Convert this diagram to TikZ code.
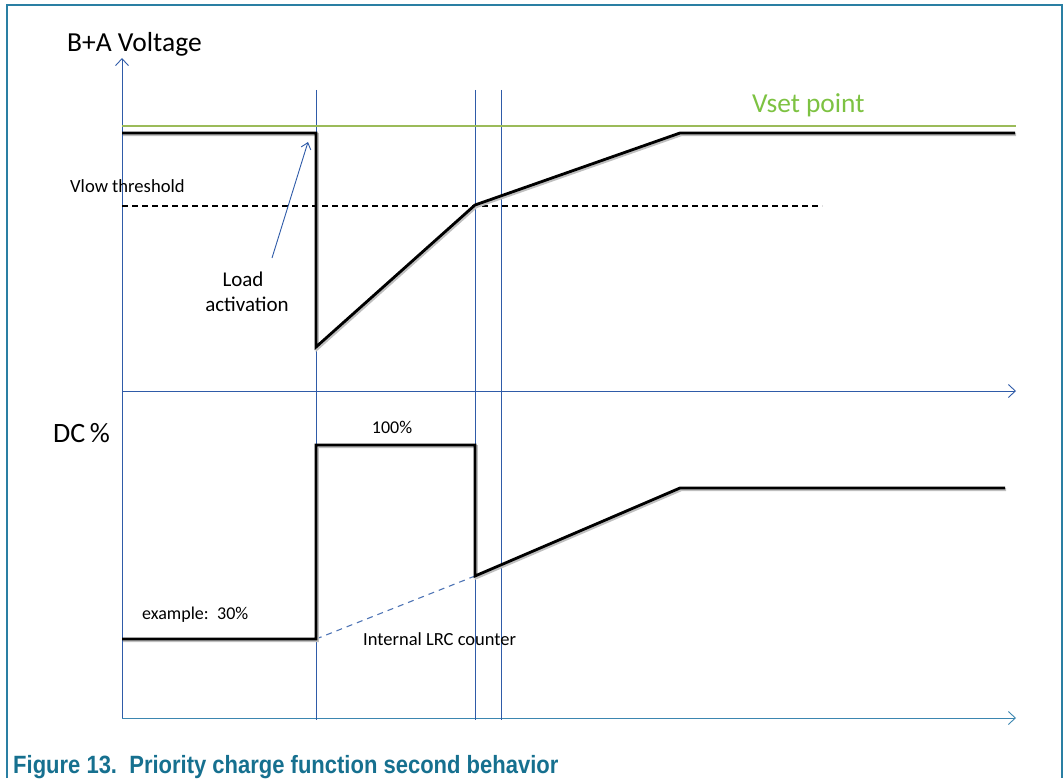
\documentclass[tikz,border=0pt]{standalone}
\usepackage{fontspec}
\setmainfont{Carlito}
\newfontfamily\capfont[FakeStretch=0.88]{Liberation Sans}
\usetikzlibrary{arrows.meta}

\definecolor{axisblue}{HTML}{2F5BA8}
\definecolor{axisteal}{HTML}{3B86B0}
\definecolor{vsetgreen}{HTML}{9BBB59}
\definecolor{vsettext}{HTML}{7DC242}
\definecolor{framecol}{HTML}{2A7FA3}
\definecolor{capcol}{HTML}{16708F}

\tikzset{
  axis/.style={axisblue, line width=0.9pt, -{Straight Barb[length=7pt,width=13pt]}},
  marker/.style={axisblue, line width=0.9pt},
  sig/.style={black, line width=2.8pt, line join=miter,
    preaction={draw=black!25, line width=3.2pt, transform canvas={shift={(1.2pt,-1.6pt)}}}},
  lbl/.style={inner sep=0pt, anchor=base west},
}

\begin{document}
\begin{tikzpicture}[x=1pt,y=-1pt]
\useasboundingbox (0,0) rectangle (1064,778);

% frame
\draw[framecol, line width=1.4pt] (7,778) -- (7,5) -- (1062,5) -- (1062,778);

% axes
\coordinate (ytop) at (122,58);
\coordinate (o1) at (122,391);
\coordinate (o2) at (122,718);
\coordinate (x1) at (1016,391);
\coordinate (x2) at (1016,718);
\draw[axis] (o2) -- (ytop);
\draw[axis] (o1) -- (x1);
\draw[axis, axisteal] (o2) -- (x2);

% time markers
\foreach \x/\n in {316/ta,475/tb,501/tc}{
  \coordinate (\n top) at (\x,90);
  \coordinate (\n bot) at (\x,720);
  \draw[marker] (\n top) -- (\n bot);
}

% Vset point and Vlow threshold
\coordinate (vs1) at (122,126);
\coordinate (vs2) at (1016,126);
\draw[vsetgreen, line width=1.6pt] (vs1) -- (vs2);
\coordinate (vl1) at (122,206);
\coordinate (vl2) at (822,206);
\draw[black, line width=1.2pt, dash pattern=on 6pt off 4pt] (vl1) -- (vl2);

% B+A voltage
\coordinate (v0) at (122,133);
\coordinate (v1) at (316,133);
\coordinate (v2) at (316,347);
\coordinate (v3) at (475,205);
\coordinate (v4) at (680,133);
\coordinate (v5) at (1015,133);
\draw[sig] (v0) -- (v1) -- (v2) -- (v3) -- (v4) -- (v5);

% DC %
\coordinate (d0) at (122,639);
\coordinate (d1) at (316,639);
\coordinate (d2) at (316,445);
\coordinate (d3) at (475,445);
\coordinate (d4) at (475,576);
\coordinate (d5) at (680,488);
\coordinate (d6) at (1005,488);
\draw[axisblue!85, line width=1.1pt, dash pattern=on 6pt off 5pt] (d1) -- (d4);
\draw[sig] (d0) -- (d1) -- (d2) -- (d3) -- (d4) -- (d5) -- (d6);

% labels
\node[lbl, font=\fontsize{27.5}{32}\selectfont] (ba) at (67,52) {B+A Voltage};
\node[lbl, font=\fontsize{27.4}{32}\selectfont, text=vsettext] (vset) at (752,113) {Vset point};
\node[lbl, font=\fontsize{18.6}{22}\selectfont] (vlow) at (70,193) {Vlow threshold};
\node[inner sep=0pt, anchor=base, font=\fontsize{21}{24}\selectfont] (load) at (243,286) {Load};
\node[inner sep=0pt, anchor=base, font=\fontsize{21}{24}\selectfont] (act) at (247,311) {activation};
\coordinate (la) at (308,142);
\coordinate (lb) at (272,258);
\draw[axisblue, line width=0.9pt, -{Straight Barb[length=6pt,width=10pt]}] (lb) -- (la);
\node[lbl, font=\fontsize{28}{32}\selectfont] (dc) at (53,442) {DC\,\%};
\node[inner sep=0pt, anchor=base, font=\fontsize{18}{21}\selectfont] (full) at (392,433) {100\%};
\node[lbl, font=\fontsize{18}{21}\selectfont] (ex) at (142,619) {example:\, 30\%};
\node[lbl, font=\fontsize{18.5}{21}\selectfont] (lrc) at (363,645) {Internal LRC counter};
\node[lbl, font=\capfont\bfseries\fontsize{25}{29}\selectfont, text=capcol] (cap) at (13,773) {Figure 13.\ \ Priority charge function second behavior};
\end{tikzpicture}
\end{document}
